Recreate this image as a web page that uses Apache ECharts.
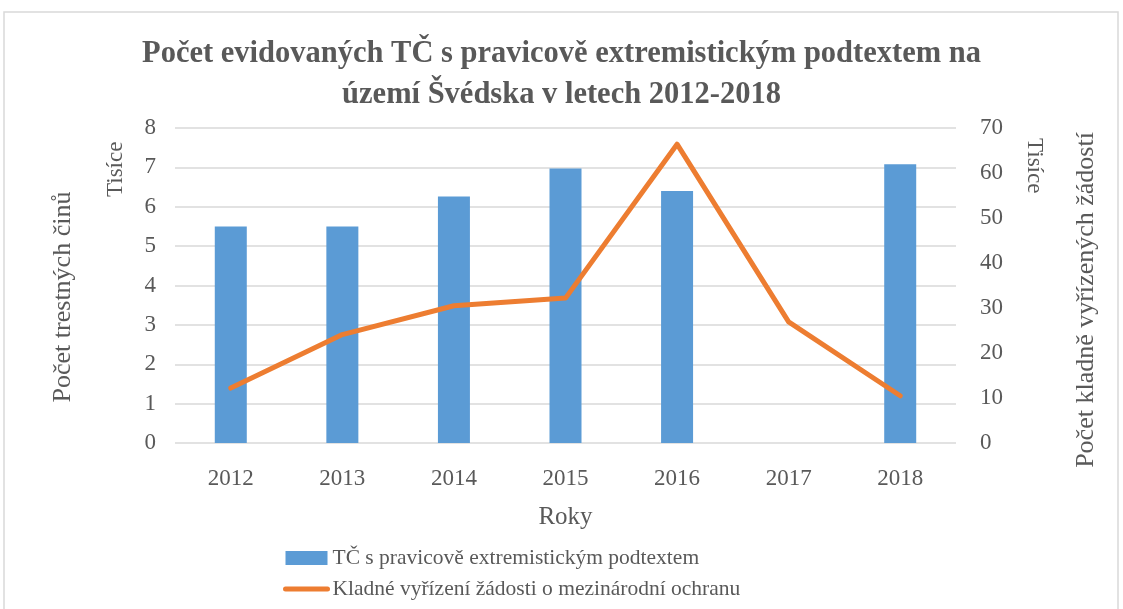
<!DOCTYPE html>
<html>
<head>
<meta charset="utf-8">
<script src="https://cdn.jsdelivr.net/npm/echarts@6/dist/echarts.min.js"></script>
<style>
  html, body { margin: 0; padding: 0; background: #fff; }
  #main { width: 1123px; height: 609px; }
</style>
</head>
<body>
<div id="main"></div>
<script>
const years = ['2012', '2013', '2014', '2015', '2016', '2017', '2018']
// thousands
const crimes = [5.5, 5.5, 6.26, 6.97, 6.4, null, 7.08]
const asylumGranted = [12.2, 24.1, 30.5, 32.2, 66.4, 26.9, 10.5]

const barName = 'TČ s pravicově extremistickým podtextem'
const lineName = 'Kladné vyřízení žádosti o mezinárodní ochranu'

const font = '"Liberation Serif", "DejaVu Serif", serif'
const textColor = '#595959'

const chart = echarts.init(document.getElementById('main'))

const option = {
  backgroundColor: '#fff',
  textStyle: { fontFamily: font, color: textColor },
  title: {
    text: 'Počet evidovaných TČ s pravicově extremistickým podtextem na\núzemí Švédska v letech 2012-2018',
    left: 'center',
    top: 29,
    textStyle: {
      fontFamily: font,
      fontSize: 30.5,
      fontWeight: 'bold',
      color: textColor,
      lineHeight: 41
    }
  },
  color: ['#5B9BD5', '#ED7D31'],
  legend: {
    orient: 'vertical',
    left: 278,
    top: 542,
    itemGap: 9,
    itemWidth: 42,
    itemHeight: 14,
    textStyle: { fontFamily: font, fontSize: 21.5, color: textColor },
    data: [
      { name: barName, icon: 'rect' },
      { name: lineName, itemStyle: { opacity: 0 }, lineStyle: { width: 5, cap: 'round' } }
    ]
  },
  grid: {
    left: 175,
    right: 167,
    top: 128,
    bottom: 166
  },
  xAxis: [{
    type: 'category',
    data: years,
    name: 'Roky',
    nameLocation: 'middle',
    nameGap: 62,
    nameTextStyle: { fontFamily: font, fontSize: 25, color: textColor },
    axisLine: { show: false },
    axisTick: { show: false },
    axisLabel: { fontFamily: font, fontSize: 23, color: textColor, margin: 24 }
  }],
  yAxis: [{
    type: 'value',
    min: 0,
    max: 8,
    interval: 1,
    axisLine: { show: false },
    axisTick: { show: false },
    axisLabel: { fontFamily: font, fontSize: 23, color: textColor, margin: 19 },
    splitLine: { lineStyle: { color: '#D9D9D9', width: 1.5 } }
  }, {
    type: 'value',
    min: 0,
    max: 70,
    interval: 10,
    axisLine: { show: false },
    axisTick: { show: false },
    axisLabel: { fontFamily: font, fontSize: 23, color: textColor, margin: 24 },
    splitLine: { show: false }
  }],
  graphic: [
    {
      type: 'rect',
      shape: { x: 4, y: 12, width: 1114, height: 640 },
      style: { fill: 'none', stroke: '#D9D9D9', lineWidth: 1.5 },
      silent: true
    },
    {
      type: 'text',
      x: 63,
      y: 297,
      rotation: Math.PI / 2,
      style: {
        text: 'Počet trestných činů', fontFamily: font, fontSize: 26, fill: textColor,
        align: 'center', verticalAlign: 'middle'
      }
    },
    {
      type: 'text',
      x: 1086,
      y: 300,
      rotation: Math.PI / 2,
      style: {
        text: 'Počet kladně vyřízených žádostí', fontFamily: font, fontSize: 26, fill: textColor,
        align: 'center', verticalAlign: 'middle'
      }
    },
    {
      type: 'text',
      x: 104,
      y: 197,
      rotation: Math.PI / 2,
      style: { text: 'Tisíce', fontFamily: font, fontSize: 23, fill: textColor }
    },
    {
      type: 'text',
      x: 1046,
      y: 138,
      rotation: -Math.PI / 2,
      style: { text: 'Tisíce', fontFamily: font, fontSize: 23, fill: textColor }
    }
  ],
  series: [{
    name: barName,
    type: 'bar',
    yAxisIndex: 0,
    barWidth: 32,
    data: crimes
  }, {
    name: lineName,
    type: 'line',
    yAxisIndex: 1,
    symbol: 'none',
    lineStyle: { width: 5, join: 'round', cap: 'round' },
    data: asylumGranted
  }]
}

chart.setOption(option)
</script>
</body>
</html>
